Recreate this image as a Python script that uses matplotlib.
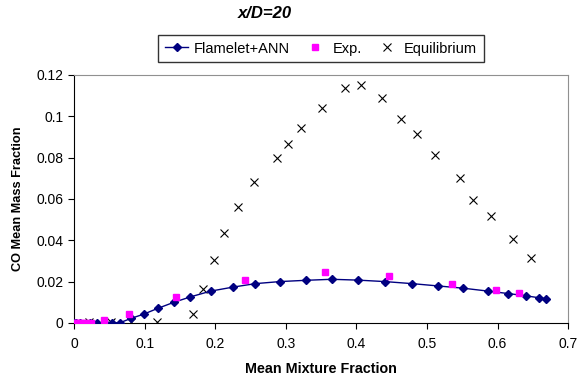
import matplotlib.pyplot as plt
import numpy as np

plt.rcParams['font.family'] = ['Liberation Sans', 'DejaVu Sans']

# Flamelet+ANN prediction
ann_x = [0.0, 0.003, 0.0085, 0.0228, 0.0332, 0.044, 0.0545, 0.0654, 0.081, 0.0986,
         0.1185, 0.141, 0.165, 0.194, 0.225, 0.257, 0.292, 0.328, 0.365, 0.402,
         0.440, 0.479, 0.515, 0.551, 0.586, 0.615, 0.640, 0.658, 0.668]
ann_y = [0.0, 0.0, 0.0, 0.0, 0.0, 0.0, 0.0, 0.0001, 0.0022, 0.0042,
         0.0070, 0.0099, 0.0126, 0.0154, 0.0173, 0.0190, 0.0200, 0.0206, 0.0211, 0.0207,
         0.0200, 0.0190, 0.0179, 0.0168, 0.0154, 0.0142, 0.0131, 0.0122, 0.0117]

# Experimental data
exp_x = [0.001, 0.003, 0.005, 0.007, 0.010, 0.013, 0.016, 0.020, 0.024,
         0.0427, 0.0773, 0.1446, 0.242, 0.356, 0.446, 0.536, 0.598, 0.631]
exp_y = [0.0, 0.0, 0.0, 0.0, 0.0, 0.0, 0.0, 0.0, 0.0,
         0.0016, 0.0045, 0.0125, 0.0208, 0.0245, 0.0229, 0.0187, 0.0160, 0.0147]

# Equilibrium
eq_x = [0.0218, 0.052, 0.081, 0.118, 0.168, 0.183, 0.198, 0.213, 0.232, 0.255,
        0.287, 0.303, 0.322, 0.352, 0.384, 0.406, 0.437, 0.463, 0.486, 0.511,
        0.547, 0.565, 0.591, 0.622, 0.648]
eq_y = [0.0005, 0.0005, 0.0005, 0.0005, 0.0043, 0.0163, 0.0304, 0.0436, 0.0561, 0.0681,
        0.0798, 0.0865, 0.0942, 0.1041, 0.1135, 0.1154, 0.1087, 0.0987, 0.0913, 0.0813,
        0.0703, 0.0593, 0.0516, 0.0408, 0.0315]

xticks = [0, 0.1, 0.2, 0.3, 0.4, 0.5, 0.6, 0.7]
xticklabels = ['0', '0.1', '0.2', '0.3', '0.4', '0.5', '0.6', '0.7']
yticks = [0, 0.02, 0.04, 0.06, 0.08, 0.1, 0.12]
yticklabels = ['0', '0.02', '0.04', '0.06', '0.08', '0.1', '0.12']

fig = plt.figure(figsize=(5.78, 3.75), dpi=100)
ax = fig.add_axes([0.128, 0.139, 0.855, 0.661])

ax.plot(ann_x, ann_y, color='#000080', marker='D', markersize=4,
        linewidth=1, label='Flamelet+ANN', zorder=3)
ax.plot(exp_x, exp_y, linestyle='none', marker='s', markersize=5,
        color='#ff00ff', label='Exp.', zorder=4)
ax.plot(eq_x, eq_y, linestyle='none', marker='x', markersize=6,
        markeredgewidth=0.8, color='black', label='Equilibrium', zorder=2)

ax.set_xlim(0, 0.7)
ax.set_ylim(0, 0.12)
ax.set_xticks(xticks)
ax.set_xticklabels(xticklabels, fontsize=10)
ax.set_yticks(yticks)
ax.set_yticklabels(yticklabels, fontsize=10)
ax.tick_params(direction='out', length=4, width=0.8)
ax.tick_params(axis='x', pad=6)

ax.spines['top'].set_color('#909090')
ax.spines['right'].set_color('#909090')
ax.spines['left'].set_color('black')
ax.spines['bottom'].set_color('black')

ax.set_xlabel('Mean Mixture Fraction', fontsize=10.3, fontweight='bold', labelpad=8)
ax.set_ylabel('CO Mean Mass Fraction', fontsize=9.2, fontweight='bold', labelpad=9)

fig.text(0.458, 0.965, 'x/D=20', fontsize=12, fontweight='bold', fontstyle='italic',
         ha='center', va='center')

leg = ax.legend(loc='lower center', bbox_to_anchor=(0.5, 1.052), ncol=3,
                fontsize=10.5, frameon=True, fancybox=False, edgecolor='black',
                handlelength=1.6, handletextpad=0.4, columnspacing=0.9,
                borderpad=0.45, borderaxespad=0)
leg.get_frame().set_linewidth(1.0)

fig.savefig('out.png', dpi=100)
